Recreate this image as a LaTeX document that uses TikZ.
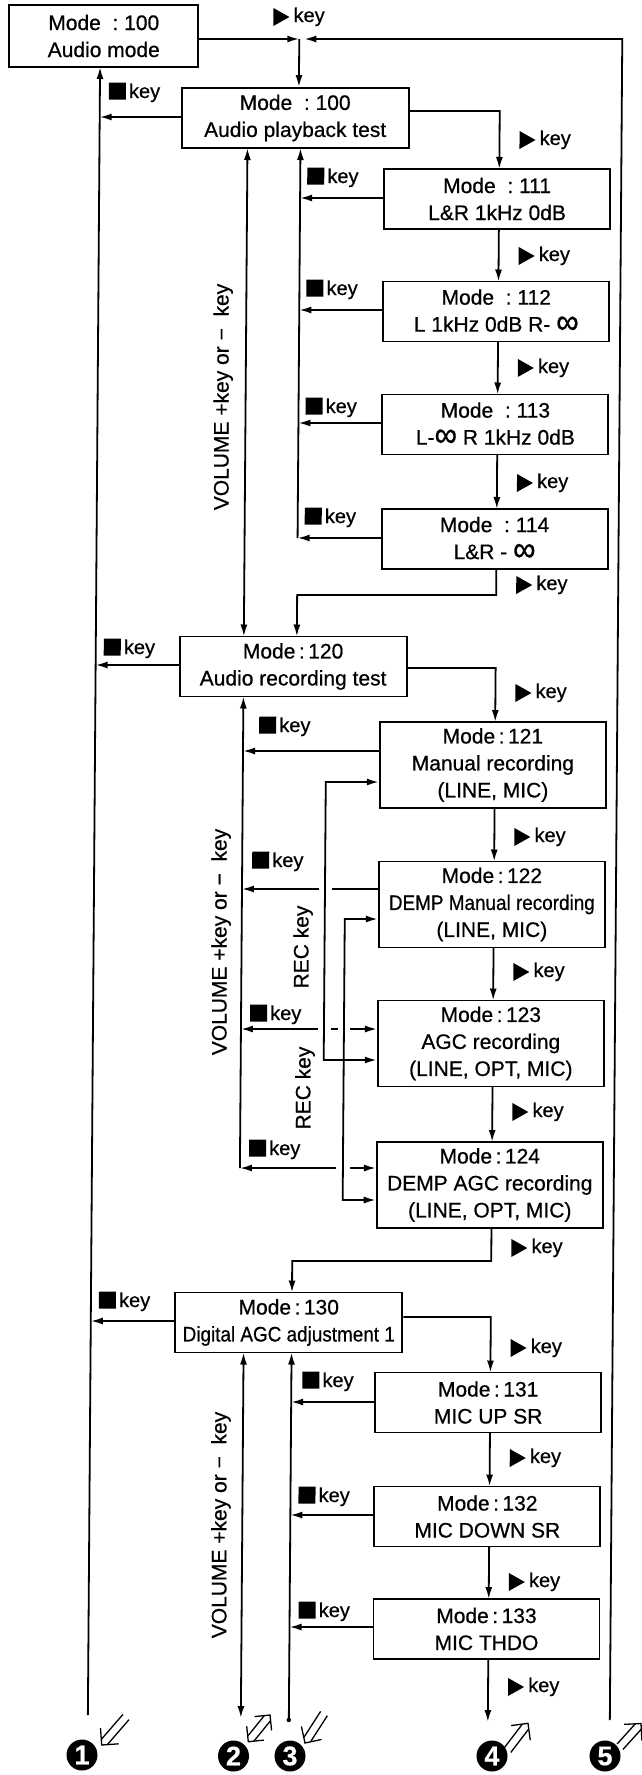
\documentclass[tikz,border=0pt]{standalone}
\usepackage{fontspec}
\setmainfont{Liberation Sans}[FakeBold=0.6]
\usepackage{graphicx}
\usetikzlibrary{arrows.meta,calc}
\tikzset{
  ln/.style={line width=1.8pt},
  arr/.style={ln, -{Latex[length=12pt,width=7pt]}},
  arrs/.style={ln, {Latex[length=12pt,width=7pt]}-{Latex[length=12pt,width=7pt]}},
  box/.style={draw, line width=1.9pt, minimum width=226pt, minimum height=60pt, inner sep=0pt, align=center, font=\fontsize{21}{27}\selectfont},
  midbox/.style={box, minimum width=227pt},
  tallbox/.style={box, minimum height=86pt},
  keyt/.style={inner sep=0pt, font=\fontsize{20}{20}\selectfont},
  vtxt/.style={inner sep=0pt, rotate=90, font=\fontsize{21}{21}\selectfont},
  num/.style={circle, fill=black, text=white, inner sep=0pt, minimum size=31pt, font=\bfseries\fontsize{27}{27}\selectfont},
  hol/.style={line width=1.3pt, line join=miter, line cap=butt}
}
\newcommand{\infsym}{\raisebox{-2pt}{\scalebox{1.5}[1.7]{∞}}}
\newcommand{\playlbl}[3]{\fill (#2,{#3-9}) -- (#2,{#3+9}) -- ({#2+16},#3) -- cycle;
  \node[keyt, anchor=base west] (#1) at ({#2+20},{#3+5}) {key};}
\newcommand{\stoplbl}[3]{\fill (#2,{#3-8.5}) rectangle ({#2+17},{#3+8.5});
  \node[keyt, anchor=base west] (#1) at ({#2+20},{#3+7}) {key};}
% hollow double arrow: #1 prefix, #2 tail, #3 tip
\newcommand{\hollowone}[3]{%
  \coordinate (#1p) at ($(#3)!4pt!(#2)$);
  \coordinate (#1q) at ($(#3)!12pt!(#2)$);
  \draw[hol] ($(#2)!4pt!90:(#3)$) -- ($(#1p)!4pt!-90:(#2)$);
  \draw[hol] ($(#2)!4pt!-90:(#3)$) -- ($(#1p)!4pt!90:(#2)$);
  \draw[hol] ($(#1q)!12pt!-90:(#2)$) -- (#3) -- ($(#1q)!12pt!90:(#2)$);
}
\newcommand{\hollowtwo}[3]{%
  \coordinate (#1p) at ($(#3)!4pt!(#2)$);
  \coordinate (#1q) at ($(#3)!11pt!(#2)$);
  \coordinate (#1r) at ($(#2)!4pt!(#3)$);
  \coordinate (#1s) at ($(#2)!11pt!(#3)$);
  \draw[hol] ($(#1r)!4pt!90:(#3)$) -- ($(#1p)!4pt!-90:(#2)$);
  \draw[hol] ($(#1r)!4pt!-90:(#3)$) -- ($(#1p)!4pt!90:(#2)$);
  \draw[hol] ($(#1q)!11pt!-90:(#2)$) -- (#3) -- ($(#1q)!11pt!90:(#2)$);
  \draw[hol] ($(#1s)!11pt!-90:(#3)$) -- (#2) -- ($(#1s)!11pt!90:(#3)$);
}
\begin{document}
\begin{tikzpicture}[x=1pt,y=-1pt]
\fill[white] (0,0) rectangle (642,1775);
\useasboundingbox (0,0) rectangle (642,1775);
\begin{scope}[cm={1,0,0.0074,1,(6.56pt,0pt)}]
% boxes
\node[box, minimum width=189pt, minimum height=62pt] (am) at (97.5,36) {Mode\ \ :\ 100\\Audio mode};
\node[midbox] (pb) at (289.5,118) {Mode\ \ :\ 100\\Audio playback test};
\node[box] (m111) at (492,199) {Mode\ \ :\ 111\\L\&R 1kHz 0dB};
\node[box] (m112) at (492,311.5) {Mode\ \ :\ 112\\L 1kHz 0dB R- \infsym};
\node[box] (m113) at (492,424.5) {Mode\ \ :\ 113\\L-\infsym\ R 1kHz 0dB};
\node[box] (m114) at (492,539) {Mode\ \ :\ 114\\L\&R - \infsym};
\node[midbox] (m120) at (291.5,666.5) {Mode\,:\,120\\Audio recording test};
\node[tallbox] (m121) at (492,765) {Mode\,:\,121\\Manual recording\\(LINE, MIC)};
\node[tallbox] (m122) at (492,904.5) {Mode\,:\,122\\\scalebox{0.9}[1]{DEMP Manual recording}\\(LINE, MIC)};
\node[tallbox] (m123) at (492,1043.5) {Mode\,:\,123\\AGC recording\\(LINE, OPT, MIC)};
\node[tallbox] (m124) at (492,1185) {Mode\,:\,124\\DEMP AGC recording\\(LINE, OPT, MIC)};
\node[midbox] (m130) at (292,1322.5) {Mode\,:\,130\\\scalebox{0.9}[1]{Digital AGC adjustment 1}};
\node[box] (m131) at (492,1402.5) {Mode\,:\,131\\MIC UP SR};
\node[box] (m132) at (492,1516.5) {Mode\,:\,132\\MIC DOWN SR};
\node[box] (m133) at (492,1629) {Mode\,:\,133\\MIC THDO};
% coordinates
\coordinate (J) at (293,39);
\coordinate (c1) at (94,1715);
\coordinate (c2) at (247,1718);
\coordinate (c3) at (295,1720);
\coordinate (c4) at (494,1722);
\coordinate (c5) at (616,1720);
% top loop
\draw[arr] (am.east |- 0,39) -- (J);
\draw[arr] (J) -- (J |- pb.north);
\draw[arr] (c5) -- (616,39) -- (298,39);
% left line
\draw[arr] (c1) -- (94,67);
\draw[arr] (pb.west |- 0,117) -- (94,117);
\draw[arr] (m120.west |- 0,665) -- (94,665);
\draw[arr] (m130.west |- 0,1321) -- (94,1321);
% section 1
\draw[arr] (pb.east |- 0,111) -- (494,111) -- (494,169);
\draw[arrs] (242,148) -- (242,636.5);
\draw[arr] (295,538) -- (295,148);
\draw[arr] (m111.west |- 0,198) -- (295,198);
\draw[arr] (m112.west |- 0,310) -- (295,310);
\draw[arr] (m113.west |- 0,423) -- (295,423);
\draw[arr] (m114.west |- 0,538) -- (295,538);
\draw[arr] (494,229) -- (494,281.5);
\draw[arr] (494,341.5) -- (494,394.5);
\draw[arr] (494,454.5) -- (494,509);
\draw[arr] (494,569) -- (494,595) -- (295,595) -- (295,636.5);
% section 2
\draw[arr] (m120.east |- 0,668) -- (494,668) -- (494,722);
\draw[arr] (242,1168) -- (242,696.5);
\draw[arr] (m121.west |- 0,751) -- (242,751);
\draw[ln] (m122.west |- 0,889) -- (332,889);
\draw[arr] (319,889) -- (242,889);
\draw[ln] (332,1029) -- (339,1029);
\draw[arr] (319,1029) -- (242,1029);
\draw[arr] (351,1029) -- (m123.west |- 0,1029);
\draw[arr] (338,1168) -- (242,1168);
\draw[arr] (352,1168) -- (m124.west |- 0,1168);
\draw[arrs] (m121.west |- 0,782) -- (325,782) -- (325,1060) -- (m123.west |- 0,1060);
\draw[arrs] (m122.west |- 0,919) -- (345,919) -- (345,1200) -- (m124.west |- 0,1200);
\draw[arr] (494,808) -- (494,861.5);
\draw[arr] (494,947.5) -- (494,1000.5);
\draw[arr] (494,1086.5) -- (494,1142);
\draw[arr] (494,1228) -- (494,1261) -- (295,1261) -- (295,1292.5);
% section 3
\draw[arr] (m130.east |- 0,1317) -- (494,1317) -- (494,1372.5);
\draw[arrs] (247,1352.5) -- (c2);
\draw[arr] (c3) -- (295,1352.5);
\fill (c3) circle (2.2pt);
\draw[arr] (m131.west |- 0,1402) -- (295,1402);
\draw[arr] (m132.west |- 0,1515) -- (295,1515);
\draw[arr] (m133.west |- 0,1627) -- (295,1627);
\draw[arr] (494,1432.5) -- (494,1486.5);
\draw[arr] (494,1546.5) -- (494,1599);
\draw[arr] (494,1659) -- (c4);
% key labels
\playlbl{p0}{267}{17}
\playlbl{p1}{514}{140}
\playlbl{p2}{514}{256}
\playlbl{p3}{514}{368}
\playlbl{p4}{514}{483}
\playlbl{p5}{514}{585}
\playlbl{p6}{514}{693}
\playlbl{p7}{514}{837}
\playlbl{p8}{514}{972}
\playlbl{p9}{514}{1112}
\playlbl{p10}{514}{1248}
\playlbl{p11}{514}{1348}
\playlbl{p12}{514}{1458}
\playlbl{p13}{514}{1582}
\playlbl{p14}{514}{1687}
\stoplbl{s0}{103}{91}
\stoplbl{s1}{302}{176}
\stoplbl{s2}{302}{288}
\stoplbl{s3}{302}{406}
\stoplbl{s4}{302}{516}
\stoplbl{s5}{102}{647}
\stoplbl{s6}{258}{725}
\stoplbl{s7}{252}{860}
\stoplbl{s8}{251}{1013}
\stoplbl{s9}{251}{1148}
\stoplbl{s10}{102}{1300}
\stoplbl{s11}{306}{1380}
\stoplbl{s12}{303}{1495}
\stoplbl{s13}{304}{1610}
% rotated texts
\node[vtxt] (v1) at (219.5,397) {VOLUME +key or −\ \ key};
\node[vtxt] (v2) at (221.5,942) {VOLUME +key or −\ \ key};
\node[vtxt] (v3) at (225.7,1525) {VOLUME +key or −\ \ key};
\node[vtxt] (r1) at (303.5,947) {REC key};
\node[vtxt] (r2) at (306.5,1088) {REC key};
\end{scope}
% numbers (page coordinates)
\node[num] (n1) at (82,1755) {1};
\node[num] (n2) at (233.5,1756) {2};
\node[num] (n3) at (290,1756) {3};
\node[num] (n4) at (492,1756) {4};
\node[num] (n5) at (605,1756) {5};
\coordinate (a1s) at (126,1717);   \coordinate (a1e) at (101.7,1745);
\coordinate (a2s) at (248.3,1741.7); \coordinate (a2e) at (270,1715);
\coordinate (a3s) at (324,1713.5); \coordinate (a3e) at (305,1743);
\coordinate (a4s) at (507.6,1750); \coordinate (a4e) at (528,1723.3);
\coordinate (a5s) at (620,1746.7); \coordinate (a5e) at (641,1723.5);
\hollowone{h1}{a1s}{a1e}
\hollowtwo{h2}{a2s}{a2e}
\hollowone{h3}{a3s}{a3e}
\hollowone{h4}{a4s}{a4e}
\hollowone{h5}{a5s}{a5e}
\end{tikzpicture}
\end{document}
